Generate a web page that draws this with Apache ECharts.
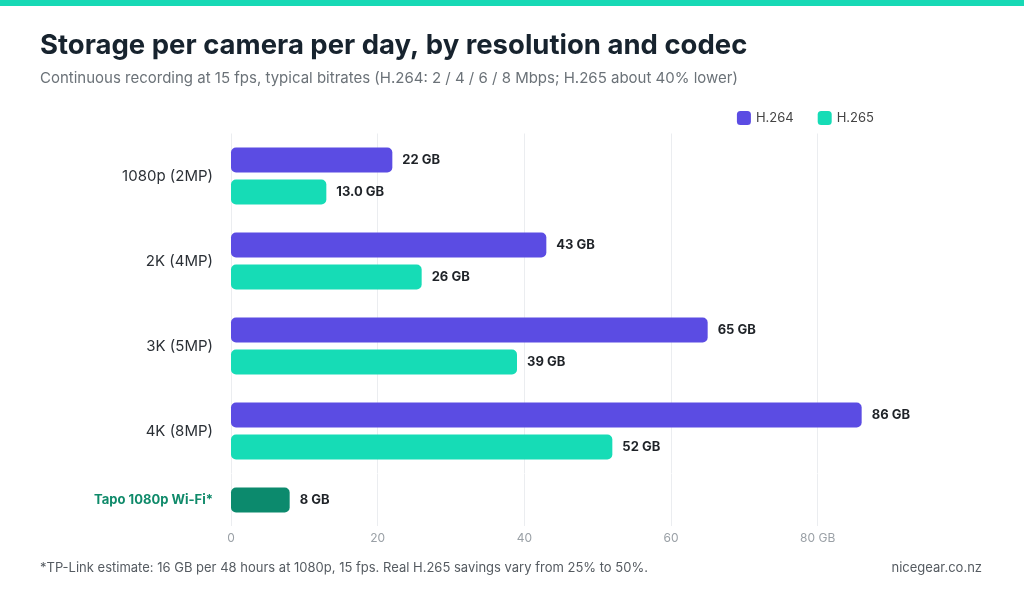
<!DOCTYPE html>
<html><head><meta charset="utf-8">
<script src="https://cdn.jsdelivr.net/npm/echarts@6/dist/echarts.min.js"></script>
<style>html,body{margin:0;background:#fff}#c{width:1024px;height:597px}</style>
</head><body><div id="c"></div>
<script>
var resolutions = ['1080p (2MP)', '2K (4MP)', '3K (5MP)', '4K (8MP)'];
var h264 = [22, 43, 65, 86];
var h265 = [13, 26, 39, 52];
var h265Labels = ['13.0 GB', '26 GB', '39 GB', '52 GB'];
var tapoName = 'Tapo 1080p Wi-Fi*';
var tapoValue = 8;
var xTicks = [0, 20, 40, 60, 80];

var chart = echarts.init(document.getElementById('c'));
var font = 'Inter, "Noto Sans", sans-serif';
var valueLabel = {show: true, position: 'right', distance: 10, color: '#1f2328', fontWeight: 'bold', fontSize: 13, fontFamily: font};
var xAxisBase = {
  type: 'value', min: 0, max: 90, interval: 20,
  axisLine: {show: false}, axisTick: {show: false},
  splitLine: {show: false}
};
// grid lines only at the labelled ticks, drawn behind the bars
function lineSeries(i) {
  return {
    type: 'line', xAxisIndex: i, yAxisIndex: i, data: [], z: 1, silent: true,
    markLine: {
      z: 1, silent: true, symbol: 'none', label: {show: false}, animation: false,
      lineStyle: {color: '#ebedf0', type: 'solid', width: 1},
      data: xTicks.map(function (v) { return {xAxis: v}; })
    }
  };
}

chart.setOption({
  animation: false,
  textStyle: {fontFamily: font},
  graphic: [
    {type: 'rect', shape: {x: 0, y: 0, width: 1024, height: 6}, style: {fill: '#17d9b5'}},
    {type: 'text', left: 40, top: 32, style: {text: 'Storage per camera per day, by resolution and codec', fontSize: 27.5, fontWeight: 'bold', fill: '#17232e', fontFamily: font}},
    {type: 'text', left: 40, top: 71, style: {text: 'Continuous recording at 15 fps, typical bitrates (H.264: 2 / 4 / 6 / 8 Mbps; H.265 about 40% lower)', fontSize: 15, fill: '#6b7278', fontFamily: font}},
    {type: 'text', left: 40, top: 562, style: {text: '*TP-Link estimate: 16 GB per 48 hours at 1080p, 15 fps. Real H.265 savings vary from 25% to 50%.', fontSize: 13, fill: '#555b61', fontFamily: font}},
    {type: 'text', right: 42, top: 562, style: {text: 'nicegear.co.nz', fontSize: 13, fill: '#555b61', fontFamily: font}}
  ],
  legend: {
    right: 145, top: 106, itemWidth: 14, itemHeight: 14, itemGap: 24,
    icon: 'roundRect', textStyle: {fontSize: 13, color: '#444'},
    data: ['H.264', 'H.265']
  },
  grid: [
    {left: 231, right: 133, top: 133.5, height: 340},
    {left: 231, right: 133, top: 474, height: 52}
  ],
  xAxis: [
    Object.assign({gridIndex: 0, axisLabel: {show: false}}, xAxisBase),
    Object.assign({gridIndex: 1, axisLabel: {
      margin: 6, color: '#9aa0a6', fontSize: 12, showMaxLabel: false,
      formatter: function (v) { return v === 80 ? '80 GB' : v; }
    }}, xAxisBase)
  ],
  yAxis: [
    {gridIndex: 0, type: 'category', inverse: true, data: resolutions,
      axisLine: {show: false}, axisTick: {show: false},
      axisLabel: {margin: 18, fontSize: 15, color: '#2b3036'}},
    {gridIndex: 1, type: 'category', data: [tapoName],
      axisLine: {show: false}, axisTick: {show: false},
      axisLabel: {margin: 18, fontSize: 13, color: '#0f8a6a', fontWeight: 'bold'}}
  ],
  series: [
    lineSeries(0),
    lineSeries(1),
    {name: 'H.264', type: 'bar', xAxisIndex: 0, yAxisIndex: 0, data: h264,
      barWidth: 25, barGap: '28%', color: '#5b4ce3',
      itemStyle: {borderRadius: 5}, label: Object.assign({formatter: '{c} GB'}, valueLabel), z: 3},
    {name: 'H.265', type: 'bar', xAxisIndex: 0, yAxisIndex: 0, data: h265,
      barWidth: 25, barGap: '28%', color: '#16dcb6',
      itemStyle: {borderRadius: 5},
      label: Object.assign({formatter: function (p) { return h265Labels[p.dataIndex]; }}, valueLabel), z: 3},
    {name: 'Tapo', type: 'bar', xAxisIndex: 1, yAxisIndex: 1, data: [tapoValue],
      barWidth: 25, color: '#0c8a6d', itemStyle: {borderRadius: 5},
      label: Object.assign({formatter: '{c} GB'}, valueLabel), z: 3}
  ]
});
</script></body></html>
